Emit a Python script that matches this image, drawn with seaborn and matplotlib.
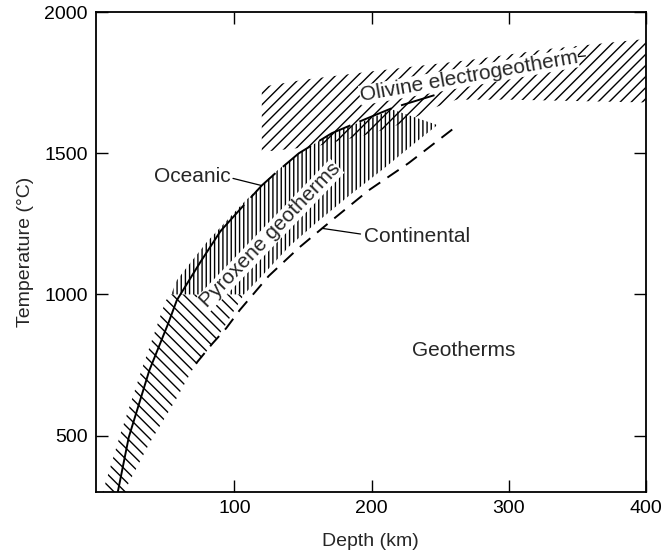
import numpy as np
import pandas as pd
import matplotlib
matplotlib.use("Agg")
import matplotlib.pyplot as plt
import seaborn as sns

# --- data (depth in km, temperature in deg C) ---
oceanic_depth = [15, 23, 38, 52, 58, 67, 75, 90, 108, 120, 131, 147, 171, 195, 215, 246]
oceanic_temp = [300, 494, 731, 900, 979, 1050, 1113, 1225, 1322, 1386, 1434, 1500, 1571, 1620, 1660, 1706]
oceanic_solid_end = 7  # solid up to this index, long dashes after

continental_depth = [72, 84, 94, 104, 125, 147, 164, 174, 198, 227, 262]
continental_temp = [755, 826, 880, 945, 1065, 1165, 1234, 1274, 1369, 1465, 1596]

# pyroxene band, lower part (diagonal hatch)
pyx_low_left_depth = [4, 17, 33, 50, 54]
pyx_low_left_temp = [300, 507, 742, 979, 1000]
pyx_low_right_depth = [22, 22, 38, 57, 69, 80, 92, 102, 107]
pyx_low_right_temp = [300, 323, 472, 624, 730, 800, 880, 960, 1000]

# pyroxene band, upper part (vertical hatch)
pyx_up_left_depth = [54, 58, 66, 80, 106, 130, 147, 171, 200, 215]
pyx_up_left_temp = [1000, 1050, 1100, 1186, 1322, 1434, 1500, 1571, 1625, 1655]
pyx_up_right_depth = [107, 120, 140, 160, 185, 210, 230, 248]
pyx_up_right_temp = [1000, 1065, 1170, 1255, 1355, 1450, 1530, 1600]

# olivine electrogeotherm band
oli_top_depth = [120, 150, 200, 271, 330, 400]
oli_top_temp = [1735, 1760, 1790, 1830, 1870, 1905]
oli_bot_depth = [120, 160, 200, 225, 245, 262, 300, 400]
oli_bot_temp = [1505, 1525, 1570, 1610, 1660, 1690, 1690, 1680]

sns.set_theme(style="ticks")
plt.rcParams['font.family'] = ['Liberation Sans', 'DejaVu Sans']
plt.rcParams['hatch.linewidth'] = 1.0

fig, ax = plt.subplots(figsize=(6.61, 5.51), dpi=100)
fig.subplots_adjust(left=0.145, right=0.977, top=0.978, bottom=0.107)

# hatched bands
oli_x = oli_top_depth + oli_bot_depth[::-1]
oli_y = oli_top_temp + oli_bot_temp[::-1]
ax.fill(oli_x, oli_y, facecolor='none', edgecolor='black', linewidth=0, hatch='///')

low_x = pyx_low_left_depth + pyx_low_right_depth[::-1]
low_y = pyx_low_left_temp + pyx_low_right_temp[::-1]
ax.fill(low_x, low_y, facecolor='none', edgecolor='black', linewidth=0, hatch='\\\\\\')

up_x = pyx_up_left_depth + pyx_up_right_depth[::-1]
up_y = pyx_up_left_temp + pyx_up_right_temp[::-1]
ax.fill(up_x, up_y, facecolor='none', edgecolor='black', linewidth=0, hatch='||||')

# geotherm lines
oc = pd.DataFrame({'depth': oceanic_depth, 'temp': oceanic_temp})
sns.lineplot(data=oc.iloc[:oceanic_solid_end + 1], x='depth', y='temp', ax=ax,
             color='black', lw=1.4, estimator=None, sort=False)
sns.lineplot(data=oc.iloc[oceanic_solid_end:], x='depth', y='temp', ax=ax,
             color='black', lw=1.4, estimator=None, sort=False)
ax.lines[-1].set_dashes((18, 5))

co = pd.DataFrame({'depth': continental_depth, 'temp': continental_temp})
sns.lineplot(data=co, x='depth', y='temp', ax=ax, color='black', lw=1.4,
             estimator=None, sort=False)
ax.lines[-1].set_dashes((7, 4.5))

# labels and leaders
fs = 14
afs = 15
ax.text(69.5, 1418, "Oceanic", fontsize=afs, ha='center', va='center')
ax.plot([99, 119.6], [1411, 1386], color='black', lw=0.9)
ax.text(194.5, 1205, "Continental", fontsize=afs, ha='left', va='center')
ax.plot([164, 192], [1234, 1214], color='black', lw=0.9)
ax.text(267, 801, "Geotherms", fontsize=afs, ha='center', va='center')
ax.text(126, 1209, "Pyroxene geotherms", fontsize=afs, ha='center', va='center',
        rotation=46, rotation_mode='anchor',
        bbox=dict(facecolor='white', edgecolor='none', pad=0.3))
ax.text(271, 1772, "Olivine electrogeotherm", fontsize=afs, ha='center', va='center',
        rotation=10, rotation_mode='anchor',
        bbox=dict(facecolor='white', edgecolor='none', pad=0.3))
ax.plot([350, 356], [1842, 1845], color='black', lw=0.9)

ax.set_xlim(-1, 400)
ax.set_ylim(300, 2000)
ax.set_xticks([100, 200, 300, 400])
ax.set_yticks([500, 1000, 1500, 2000])
ax.set_xlabel("Depth (km)", fontsize=fs, labelpad=11)
ax.set_ylabel("Temperature (\u00b0C)", fontsize=fs, labelpad=7)
ax.tick_params(direction='in', length=8.5, width=1, labelsize=fs,
               top=True, right=True, pad=6, colors='black')
for s in ax.spines.values():
    s.set_visible(True)
    s.set_linewidth(1.3)
    s.set_color('black')

plt.savefig("out.png", dpi=100)
